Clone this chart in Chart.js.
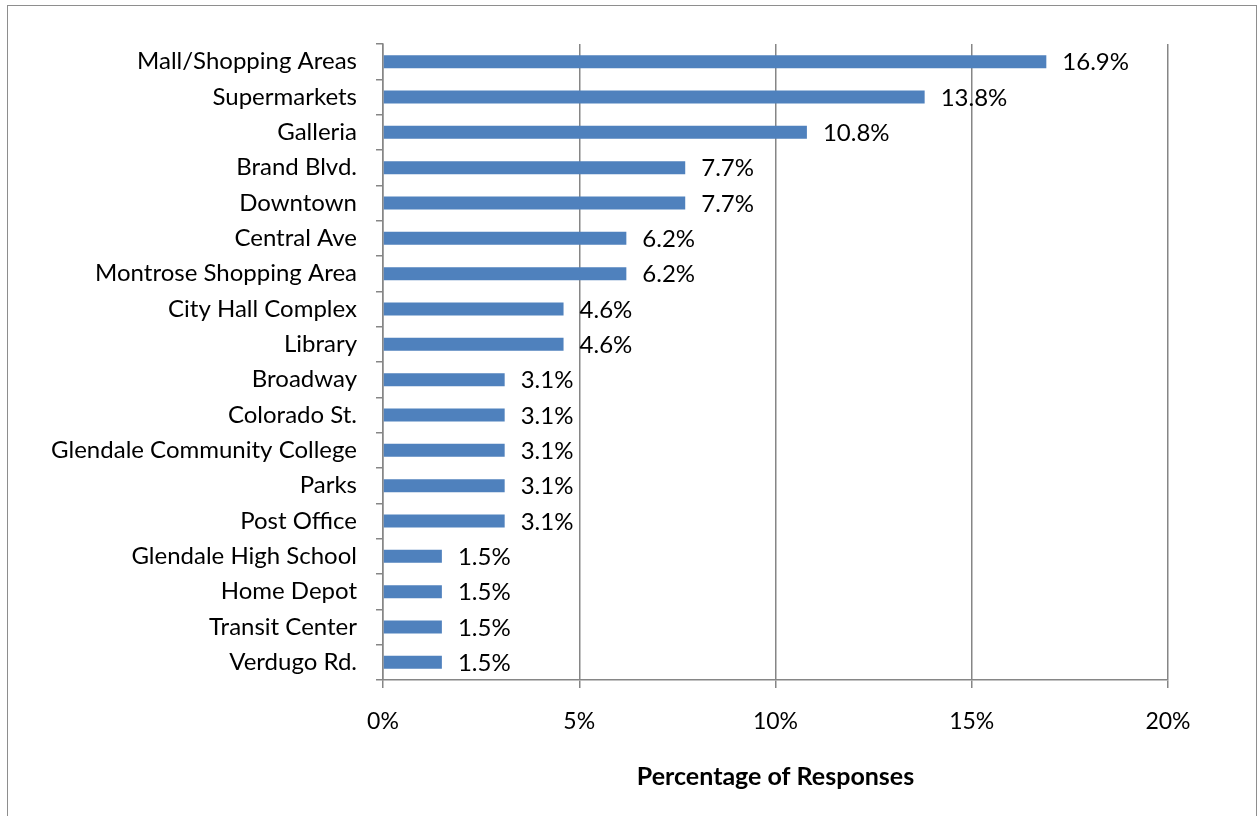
<!DOCTYPE html>
<html>
<head>
<meta charset="utf-8">
<script src="https://cdn.jsdelivr.net/npm/chart.js@4"></script>
<style>
  html, body { margin: 0; padding: 0; background: #fff; overflow: hidden; }
  #frame { position: absolute; left: 7px; top: 5px; width: 1248px; height: 900px; border: 1px solid #8e8e8e; }
  #chart { position: absolute; left: 0; top: 0; }
</style>
</head>
<body>
<div id="frame"></div>
<canvas id="chart" width="1257" height="816"></canvas>
<script>
const categories = [
  'Mall/Shopping Areas', 'Supermarkets', 'Galleria', 'Brand Blvd.', 'Downtown',
  'Central Ave', 'Montrose Shopping Area', 'City Hall Complex', 'Library', 'Broadway',
  'Colorado St.', 'Glendale Community College', 'Parks', 'Post Office',
  'Glendale High School', 'Home Depot', 'Transit Center', 'Verdugo Rd.'
];
const responses = [16.9, 13.8, 10.8, 7.7, 7.7, 6.2, 6.2, 4.6, 4.6, 3.1, 3.1, 3.1, 3.1, 3.1, 1.5, 1.5, 1.5, 1.5];
const xTicks = [0, 5, 10, 15, 20];

const FONT = 'Lato, "Open Sans", sans-serif';
const GRID = '#868686';

// value labels at the end of each bar
const barLabels = {
  id: 'barLabels',
  afterDatasetsDraw(chart) {
    const ctx = chart.ctx;
    const meta = chart.getDatasetMeta(0);
    ctx.save();
    ctx.font = '24px ' + FONT;
    ctx.fillStyle = '#000';
    ctx.textAlign = 'left';
    ctx.textBaseline = 'middle';
    meta.data.forEach((bar, i) => {
      ctx.fillText(responses[i].toFixed(1) + '%', bar.x + 16, bar.y + 1);
    });
    ctx.restore();
  }
};

new Chart(document.getElementById('chart'), {
  type: 'bar',
  data: {
    labels: categories,
    datasets: [{
      data: responses,
      backgroundColor: '#4f81bd',
      categoryPercentage: 1,
      barPercentage: 0.37,
    }],
  },
  options: {
    indexAxis: 'y',
    responsive: false,
    animation: false,
    layout: { padding: { top: 44, right: 89, left: 0, bottom: 0 } },
    scales: {
      x: {
        min: 0,
        max: 20,
        afterBuildTicks: (scale) => { scale.ticks = xTicks.map((v) => ({ value: v })); },
        afterFit: (scale) => { scale.height = 136; },
        ticks: {
          color: '#000',
          font: { family: FONT, size: 23 },
          padding: 20,
          callback: (v) => v + '%',
        },
        grid: { color: GRID, lineWidth: 1.5, tickLength: 8 },
        border: { color: GRID, width: 1.5 },
        title: {
          display: true,
          text: 'Percentage of Responses',
          color: '#000',
          font: { family: FONT, size: 25, weight: 'bold' },
          padding: { top: 0, bottom: 24 },
        },
      },
      y: {
        afterFit: (scale) => { scale.width = 383; },
        ticks: {
          color: '#000',
          font: { family: FONT, size: 24 },
          padding: 19,
          autoSkip: false,
        },
        grid: { offset: true, drawOnChartArea: false, color: GRID, lineWidth: 1.5, tickLength: 7 },
        border: { color: GRID, width: 1.5 },
      },
    },
    plugins: {
      legend: { display: false },
      tooltip: { enabled: false },
    },
  },
  plugins: [barLabels],
});
</script>
</body>
</html>
